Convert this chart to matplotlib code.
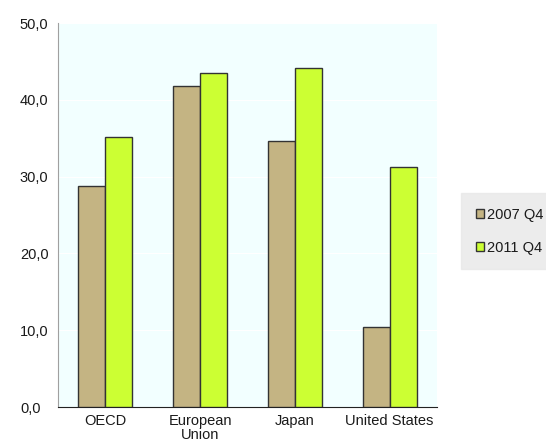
import numpy as np
import matplotlib.pyplot as plt

# Данные
categories = ['OECD', 'European\nUnion', 'Japan', 'United States']
q2007 = [28.8, 41.8, 34.7, 10.4]
q2011 = [35.2, 43.5, 44.2, 31.3]
yticks = [0, 10, 20, 30, 40, 50]

plt.rcParams['font.family'] = ['Liberation Sans', 'DejaVu Sans']
plt.rcParams['text.color'] = '#1A1A1A'

fig = plt.figure(figsize=(5.46, 4.48), dpi=100)
ax = fig.add_axes([58/546, 1 - 407/448, 379/546, 384/448])
ax.set_facecolor('#F2FFFF')

x = np.arange(len(categories))
w = 0.285
ax.bar(x - w/2, q2007, w, color='#C4B483', edgecolor='#333333', linewidth=1, label='2007 Q4', zorder=3)
ax.bar(x + w/2, q2011, w, color='#CCFF33', edgecolor='#333333', linewidth=1, label='2011 Q4', zorder=3)

ax.set_xlim(-0.5, len(categories) - 0.5)
ax.set_ylim(0, 50)
ax.set_yticks(yticks)
ax.set_yticklabels([f'{v:.1f}'.replace('.', ',') for v in yticks], fontsize=10.5)
ax.set_xticks(x)
ax.set_xticklabels(categories, fontsize=10.5, linespacing=1.05)
ax.tick_params(length=0, pad=5, colors='#1A1A1A')
ax.tick_params(axis='y', pad=27.4)
for lbl in ax.get_yticklabels():
    lbl.set_horizontalalignment('left')
ax.yaxis.grid(True, color='#FFFFFF', linewidth=0.8, zorder=0)

for s in ['top', 'right']:
    ax.spines[s].set_visible(False)
ax.spines['left'].set_color('#A0A0A0')
ax.spines['bottom'].set_color('#222222')

leg = fig.legend(loc='upper left', bbox_to_anchor=(461/546, 1 - 193/448), fontsize=10.5,
                 frameon=True, fancybox=False, handlelength=0.6, handleheight=0.6,
                 handletextpad=0.2, labelspacing=1.3, borderpad=1.0, borderaxespad=0)
leg.get_frame().set_facecolor('#E8E8E8')
leg.get_frame().set_edgecolor('#E8E8E8')

fig.savefig('out.png', dpi=100)
